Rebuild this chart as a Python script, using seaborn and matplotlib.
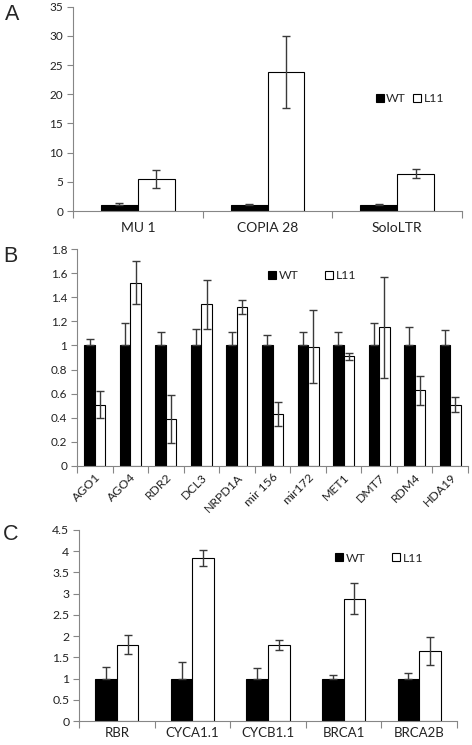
import numpy as np
import pandas as pd
import seaborn as sns
import matplotlib.pyplot as plt
from matplotlib.ticker import FuncFormatter

# ---------------- data ----------------
a_genes = ["MU 1", "COPIA 28", "SoloLTR"]
a_wt = [1.0, 1.0, 1.0]
a_wt_err = [0.35, 0.25, 0.2]
a_l11 = [5.5, 23.8, 6.4]
a_l11_err = [1.5, 6.2, 0.8]

b_genes = ["AGO1", "AGO4", "RDR2", "DCL3", "NRPD1A", "mir 156", "mir172",
           "MET1", "DMT7", "RDM4", "HDA19"]
b_wt = [1.0] * 11
b_wt_err = [0.05, 0.19, 0.11, 0.14, 0.11, 0.09, 0.11, 0.11, 0.19, 0.15, 0.13]
b_l11 = [0.51, 1.52, 0.39, 1.34, 1.32, 0.43, 0.99, 0.91, 1.15, 0.63, 0.51]
b_l11_err = [0.11, 0.18, 0.20, 0.20, 0.06, 0.10, 0.30, 0.03, 0.42, 0.12, 0.06]

c_genes = ["RBR", "CYCA1.1", "CYCB1.1", "BRCA1", "BRCA2B"]
c_wt = [1.0] * 5
c_wt_err = [0.28, 0.40, 0.24, 0.09, 0.12]
c_l11 = [1.80, 3.85, 1.79, 2.88, 1.64]
c_l11_err = [0.22, 0.19, 0.12, 0.36, 0.33]

lines = ["WT", "L11"]

# ---------------- style ----------------
sns.set_style("white")
plt.rcParams['font.family'] = ['Lato', 'DejaVu Sans']

GREY = "#868686"
fig = plt.figure(figsize=(4.72, 7.45), dpi=100)
W, H = 472, 745


def add_axes(x0, x1, ytop, ybot):
    return fig.add_axes([x0 / W, 1 - ybot / H, (x1 - x0) / W, (ybot - ytop) / H])


def panel(ax, genes, wt, wt_err, l11, l11_err, ymax, step, width,
          tick_fs, xlab_fs, xpad, leg_pos, colspace, rotate=False):
    n = len(genes)
    df = pd.DataFrame({
        "gene": genes * 2,
        "line": ["WT"] * n + ["L11"] * n,
        "value": list(wt) + list(l11),
    })
    sns.barplot(data=df, x="gene", y="value", hue="line", hue_order=lines,
                palette={"WT": "black", "L11": "white"}, saturation=1,
                edgecolor="black", linewidth=0.8, width=width,
                errorbar=None, ax=ax)
    # error bars
    for cont, vals, errs, lower in zip(ax.containers, [wt, l11],
                                       [wt_err, l11_err], [False, True]):
        xs = [p.get_x() + p.get_width() / 2 for p in cont]
        errs = np.asarray(errs)
        yerr = [errs if lower else np.zeros_like(errs), errs]
        ax.errorbar(xs, vals, yerr=yerr, fmt="none", ecolor="#3a3a3a",
                    elinewidth=1.0, capsize=3, capthick=1.0, zorder=5)
    ax.set_xlim(-0.5, n - 0.5)
    ax.set_ylim(0, ymax)
    ax.set_yticks(np.arange(0, ymax + step / 2, step))
    ax.yaxis.set_major_formatter(FuncFormatter(lambda v, p: f"{v:g}"))
    ax.set_xlabel("")
    ax.set_ylabel("")
    for s in ["top", "right"]:
        ax.spines[s].set_visible(False)
    for s in ["left", "bottom"]:
        ax.spines[s].set_color(GREY)
        ax.spines[s].set_linewidth(0.8)
    ax.set_xticks(np.arange(-0.5, n, 1), minor=True)
    ax.tick_params(axis="x", which="major", length=0, labelsize=xlab_fs,
                   colors="#222222", pad=xpad)
    ax.tick_params(axis="x", which="minor", bottom=True, length=5,
                   width=0.8, color=GREY, direction="out")
    ax.tick_params(axis="y", left=True, length=4, width=0.8, color=GREY,
                   labelsize=tick_fs, labelcolor="#222222", pad=3)
    if rotate:
        for lab in ax.get_xticklabels():
            lab.set_rotation(45)
            lab.set_ha("right")
            lab.set_rotation_mode("anchor")
    handles, labels = ax.get_legend_handles_labels()
    ax.legend(handles, labels, loc="center", bbox_to_anchor=leg_pos, ncol=2,
              frameon=False, handlelength=0.65, handleheight=0.65,
              handletextpad=0.2, columnspacing=colspace, fontsize=8.8,
              borderaxespad=0)


axA = add_axes(73, 462, 6.8, 211)
panel(axA, a_genes, a_wt, a_wt_err, a_l11, a_l11_err, 35, 5, 0.57,
      8.5, 10, 8, (0.866, 0.549), 0.6)

axB = add_axes(77, 468, 249, 466)
panel(axB, b_genes, b_wt, b_wt_err, b_l11, b_l11_err, 1.8, 0.2, 0.59,
      8.5, 8.8, 4, (0.601, 0.876), 2.2, rotate=True)

axC = add_axes(79, 457, 530, 721)
panel(axC, c_genes, c_wt, c_wt_err, c_l11, c_l11_err, 4.5, 0.5, 0.57,
      8.8, 9.5, 4, (0.794, 0.853), 2.2)

for letter, x, y in [("A", 12, 14), ("B", 10, 257), ("C", 11, 535)]:
    fig.text(x / W, 1 - y / H, letter, fontsize=15.5, ha="center", va="center",
             family=["Liberation Sans", "DejaVu Sans"])

fig.savefig("out.png", dpi=100)
